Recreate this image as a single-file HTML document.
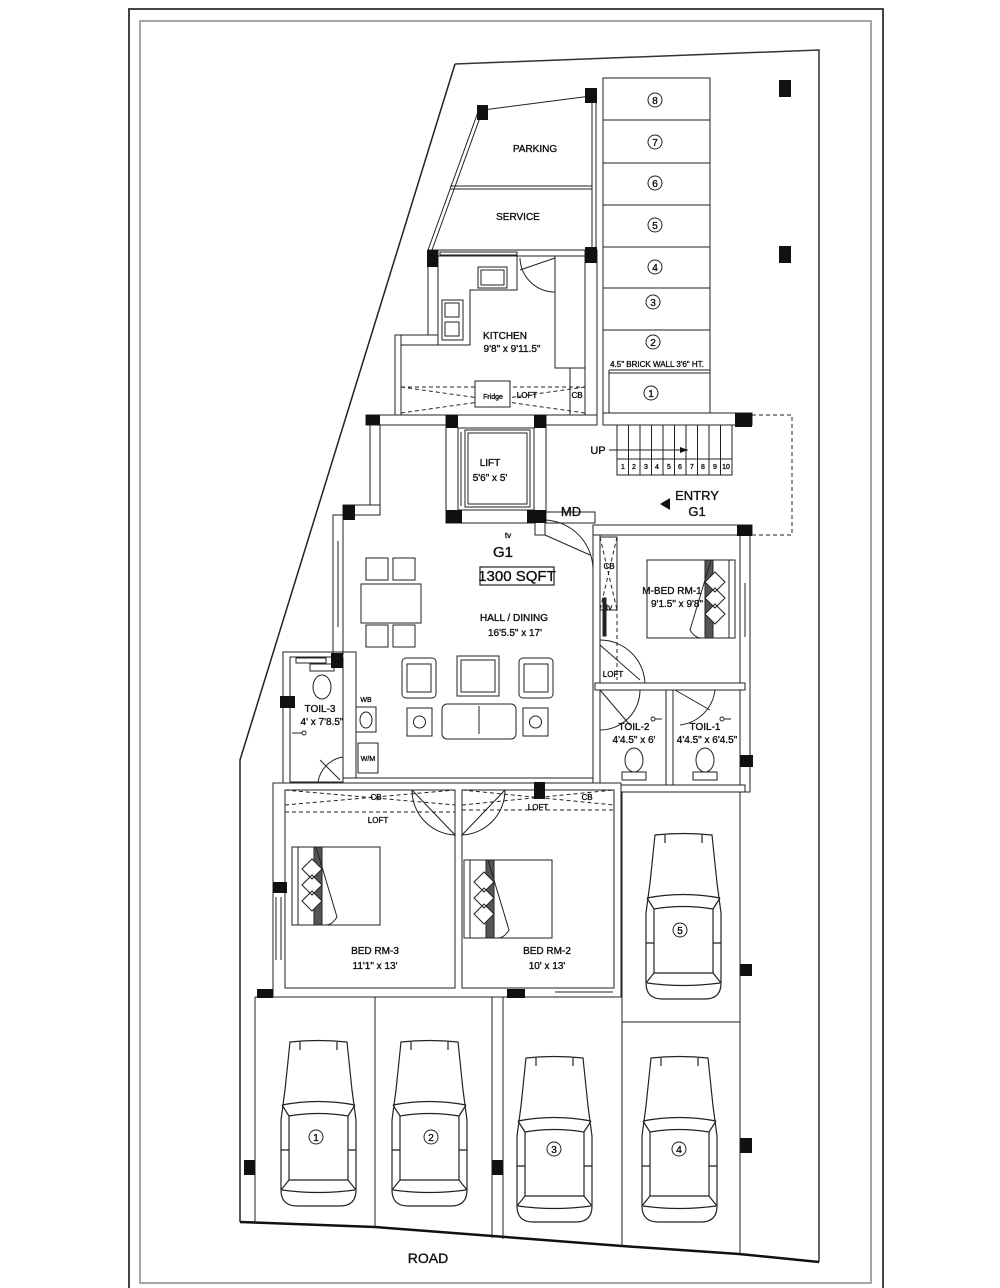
<!DOCTYPE html>
<html><head><meta charset="utf-8"><style>
html,body{margin:0;padding:0;background:#fff;}
svg{display:block;}
text{font-family:"Liberation Sans Narrow","Liberation Sans",sans-serif;fill:#111;stroke:#111;stroke-width:0.35;text-anchor:middle;}
</style></head><body>
<svg width="1000" height="1288" viewBox="0 0 1000 1288" xmlns="http://www.w3.org/2000/svg">
<defs>
<g id="car" fill="none" stroke="#222" stroke-width="1.2">
 <path d="M10,2 Q38,-1 67,2 L72,50 L76,80 L76,150 Q76,166 60,166 L17,166 Q1,166 1,150 L1,80 L5,50 Z" fill="#fff"/>
 <path d="M2,65 Q38,58 75,65"/>
 <path d="M9,76 Q38,71 68,76 L68,140 L9,140 Z"/>
 <path d="M2,65 L9,76 M75,65 L68,76 M1,150 L9,140 M76,150 L68,140"/>
 <path d="M2,150 Q38,155 75,150"/>
 <path d="M20,2 L20,10 M57,2 L57,10"/>
 <path d="M1,110 L9,110 M76,110 L68,110"/>
</g>
<g id="bed" fill="none" stroke="#222" stroke-width="1">
 <rect x="0" y="0" width="88" height="78" fill="#fff"/>
 <line x1="6" y1="0" x2="6" y2="78"/>
 <rect x="22" y="0" width="8" height="78" fill="#555"/>
 <path d="M24,0 L45,70 Q40,78 34,78"/>
 <path d="M10,22 L20,12 L30,22 L20,32 Z M10,38 L20,28 L30,38 L20,48 Z M10,54 L20,44 L30,54 L20,64 Z" fill="#fff"/>
</g>
<g id="cir"><circle r="7" fill="#fff" stroke="#222" stroke-width="1"/></g>
</defs>

<rect x="129" y="9" width="754" height="1292" fill="none" stroke="#444" stroke-width="2"/>
<rect x="140" y="21" width="731" height="1262" fill="none" stroke="#888" stroke-width="1.5"/>

<polyline points="455,64 819,50 819,1262" fill="none" stroke="#333" stroke-width="1.5"/>
<polyline points="455,64 240,760 240,1222" fill="none" stroke="#222" stroke-width="1.5"/>
<polyline points="240,1222 375,1227 622,1246 739,1254 819,1262" fill="none" stroke="#111" stroke-width="2.5"/>

<g fill="none" stroke="#222" stroke-width="1">
<line x1="483" y1="110" x2="591" y2="96"/>
<line x1="478" y1="112" x2="428" y2="250"/>
<line x1="482" y1="112" x2="432" y2="250"/>
<line x1="592" y1="96" x2="592" y2="250"/>
<line x1="596" y1="96" x2="596" y2="250"/>
<line x1="450" y1="186" x2="592" y2="186"/>
<line x1="450" y1="189" x2="592" y2="189"/>

<rect x="603" y="78" width="107" height="335"/>
<line x1="603" y1="120" x2="710" y2="120"/><line x1="603" y1="163" x2="710" y2="163"/>
<line x1="603" y1="205" x2="710" y2="205"/><line x1="603" y1="247" x2="710" y2="247"/>
<line x1="603" y1="288" x2="710" y2="288"/><line x1="603" y1="330" x2="710" y2="330"/>
<line x1="609" y1="370" x2="710" y2="370"/><line x1="609" y1="373" x2="710" y2="373"/>
<line x1="609" y1="370" x2="609" y2="413"/>
<line x1="597" y1="250" x2="597" y2="415"/><line x1="603" y1="250" x2="603" y2="415"/>

<rect x="428" y="250" width="169" height="6" fill="#fff"/>
<rect x="440" y="252" width="77" height="3"/>
<rect x="428" y="250" width="10" height="95" fill="#fff"/>
<rect x="395" y="335" width="43" height="10" fill="#fff"/>
<rect x="395" y="335" width="6" height="90" fill="#fff"/>
<rect x="585" y="250" width="12" height="175" fill="#fff"/>
<rect x="555" y="256" width="30" height="112"/>
<rect x="570" y="368" width="15" height="47"/>
<path d="M555,258 L520,270 M520,258 A35,35 0 0 0 555,292"/>
<path d="M438,256 L517,256 L517,290 L470,290 L470,345 L438,345"/>
<rect x="478" y="267" width="29" height="21"/><rect x="481" y="270" width="23" height="15"/>
<rect x="442" y="300" width="21" height="40"/>
<rect x="445" y="303" width="14" height="14"/><rect x="445" y="322" width="14" height="14"/>
<g stroke-dasharray="4,3"><line x1="401" y1="387" x2="585" y2="387"/>
<line x1="401" y1="387" x2="585" y2="413"/><line x1="401" y1="413" x2="585" y2="387"/></g>
<rect x="475" y="381" width="35" height="26" fill="#fff"/>

<rect x="366" y="415" width="231" height="10" fill="#fff"/>
<rect x="603" y="413" width="149" height="12" fill="#fff"/>
<rect x="370" y="425" width="10" height="90" fill="#fff"/>
<rect x="343" y="505" width="37" height="10" fill="#fff"/>
<rect x="333" y="515" width="10" height="140" fill="#fff"/>
<line x1="338" y1="541" x2="338" y2="627"/>

<rect x="446" y="415" width="100" height="108" fill="#fff"/>
<rect x="458" y="428" width="76" height="82"/>
<rect x="465" y="430" width="65" height="77"/>
<rect x="468" y="433" width="59" height="71"/>
<line x1="461" y1="432" x2="461" y2="506"/>

<rect x="617" y="425" width="115" height="50"/>
<line x1="628.5" y1="425" x2="628.5" y2="475"/><line x1="640" y1="425" x2="640" y2="475"/>
<line x1="651.5" y1="425" x2="651.5" y2="475"/><line x1="663" y1="425" x2="663" y2="475"/>
<line x1="674.5" y1="425" x2="674.5" y2="475"/><line x1="686" y1="425" x2="686" y2="475"/>
<line x1="697.5" y1="425" x2="697.5" y2="475"/><line x1="709" y1="425" x2="709" y2="475"/>
<line x1="720.5" y1="425" x2="720.5" y2="475"/>
<line x1="617" y1="459" x2="732" y2="459"/>
<line x1="609" y1="450" x2="688" y2="450"/>
<path d="M752,415 L792,415 L792,535 L752,535" stroke-dasharray="4,3"/>
<rect x="593" y="525" width="159" height="10" fill="#fff"/>
<rect x="546" y="512" width="49" height="11"/>
<rect x="535" y="520" width="10" height="15" fill="#fff"/>
<path d="M545,535 L590,555 M545,520 A50,50 0 0 1 593,570"/>

<rect x="593" y="535" width="7" height="250" fill="#fff"/>
<rect x="740" y="525" width="10" height="267" fill="#fff"/>
<line x1="745" y1="583" x2="745" y2="637"/>
<rect x="600" y="537" width="17" height="73"/>
<g stroke-dasharray="4,3"><line x1="600" y1="537" x2="617" y2="610"/><line x1="617" y1="537" x2="600" y2="610"/>
<line x1="617" y1="537" x2="617" y2="680"/></g>
<rect x="603" y="598" width="3" height="38" fill="#222"/>
<path d="M600,645 L640,680 M600,640 A45,45 0 0 1 645,685"/>
<rect x="595" y="683" width="150" height="7" fill="#fff"/>
<rect x="666" y="690" width="7" height="102" fill="#fff"/>
<rect x="595" y="785" width="150" height="7" fill="#fff"/>
<path d="M600,690 L630,725 M600,730 A40,40 0 0 0 640,690"/>
<path d="M675,690 L710,710 M715,690 A40,40 0 0 1 680,725"/>
<ellipse cx="634" cy="760" rx="9" ry="12"/><rect x="622" y="772" width="24" height="8"/>
<ellipse cx="705" cy="760" rx="9" ry="12"/><rect x="693" y="772" width="24" height="8"/>
<circle cx="653" cy="719" r="2"/><line x1="655" y1="719" x2="662" y2="719"/>
<circle cx="722" cy="719" r="2"/><line x1="724" y1="719" x2="731" y2="719"/>

<rect x="283" y="652" width="73" height="135" fill="none"/>
<rect x="290" y="657" width="53" height="125"/>
<rect x="296" y="658" width="30" height="5"/>
<ellipse cx="322" cy="687" rx="9" ry="12"/><rect x="310" y="664" width="24" height="7"/>
<circle cx="304" cy="733" r="2"/><line x1="292" y1="733" x2="302" y2="733"/>
<path d="M320,760 L340,780 M318,782 A30,30 0 0 1 343,757"/>
<rect x="356" y="707" width="20" height="25"/><ellipse cx="366" cy="720" rx="6" ry="8"/>
<rect x="358" y="743" width="20" height="30"/>

<rect x="343" y="778" width="250" height="5" fill="#fff"/>

<rect x="273" y="783" width="348" height="214" fill="#fff"/>
<rect x="285" y="790" width="170" height="198"/>
<rect x="462" y="790" width="152" height="198"/>
<line x1="276" y1="897" x2="276" y2="960"/><line x1="281" y1="897" x2="281" y2="960"/>
<line x1="555" y1="992" x2="613" y2="992"/>
<g stroke-dasharray="4,3">
<line x1="285" y1="790" x2="455" y2="805"/><line x1="285" y1="805" x2="455" y2="790"/>
<line x1="285" y1="812" x2="455" y2="812"/>
<line x1="462" y1="790" x2="614" y2="805"/><line x1="462" y1="805" x2="614" y2="790"/>
<line x1="462" y1="810" x2="614" y2="810"/>
</g>
<path d="M412,790 A45,45 0 0 0 455,835 L412,790"/>
<path d="M505,790 A45,45 0 0 1 462,835 L505,790"/>

<line x1="255" y1="997" x2="255" y2="1222"/>
<line x1="375" y1="997" x2="375" y2="1227"/>
<line x1="492" y1="997" x2="492" y2="1238"/>
<line x1="503" y1="997" x2="503" y2="1239"/>
<line x1="622" y1="792" x2="622" y2="1246"/>
<line x1="740" y1="792" x2="740" y2="1254"/>
<line x1="622" y1="1022" x2="740" y2="1022"/>
<line x1="255" y1="997" x2="622" y2="997"/>
</g>

<g fill="#fff" stroke="#222" stroke-width="1">
<rect x="361" y="584" width="60" height="39"/>
<rect x="366" y="558" width="22" height="22"/><rect x="393" y="558" width="22" height="22"/>
<rect x="366" y="625" width="22" height="22"/><rect x="393" y="625" width="22" height="22"/>
<rect x="402" y="658" width="34" height="40" rx="4"/><rect x="407" y="664" width="24" height="28"/>
<rect x="457" y="656" width="42" height="40"/><rect x="461" y="660" width="34" height="32"/>
<rect x="519" y="658" width="34" height="40" rx="4"/><rect x="524" y="664" width="24" height="28"/>
<rect x="407" y="708" width="25" height="28"/><circle cx="419.5" cy="722" r="6"/>
<rect x="442" y="704" width="74" height="35" rx="5"/><line x1="479" y1="706" x2="479" y2="734"/>
<rect x="523" y="708" width="25" height="28"/><circle cx="535.5" cy="722" r="6"/>
</g>

<g fill="#111">
<rect x="477" y="105" width="11" height="15"/><rect x="585" y="88" width="12" height="15"/>
<rect x="427" y="250" width="11" height="17"/><rect x="585" y="247" width="12" height="16"/>
<rect x="366" y="415" width="14" height="10"/><rect x="446" y="415" width="12" height="13"/>
<rect x="534" y="415" width="12" height="13"/><rect x="735" y="413" width="17" height="14"/>
<rect x="446" y="510" width="16" height="13"/><rect x="527" y="510" width="19" height="13"/>
<rect x="343" y="505" width="12" height="15"/><rect x="737" y="525" width="15" height="11"/>
<rect x="331" y="653" width="12" height="15"/><rect x="280" y="696" width="15" height="12"/>
<rect x="273" y="882" width="14" height="11"/><rect x="257" y="989" width="16" height="9"/>
<rect x="507" y="989" width="18" height="9"/><rect x="534" y="782" width="11" height="17"/>
<rect x="740" y="755" width="13" height="12"/>
<rect x="779" y="80" width="12" height="17"/><rect x="779" y="246" width="12" height="17"/>
<rect x="740" y="964" width="12" height="12"/><rect x="740" y="1138" width="12" height="15"/>
<rect x="244" y="1160" width="11" height="15"/><rect x="492" y="1160" width="11" height="15"/>
<path d="M670,498 L660,504 L670,510 Z"/>
<path d="M680,447 L688,450 L680,453 Z"/>
</g>

<use href="#bed" x="292" y="847"/>
<use href="#bed" x="464" y="860"/>
<use href="#bed" transform="translate(735,560) scale(-1,1)"/>

<use href="#car" x="645" y="833"/>
<use href="#car" x="280" y="1040"/>
<use href="#car" x="391" y="1040"/>
<use href="#car" x="516" y="1056"/>
<use href="#car" x="641" y="1056"/>

<use href="#cir" x="655" y="100"/><use href="#cir" x="655" y="142"/><use href="#cir" x="655" y="183"/>
<use href="#cir" x="655" y="225"/><use href="#cir" x="655" y="267"/><use href="#cir" x="653" y="302"/>
<use href="#cir" x="653" y="342"/><use href="#cir" x="651" y="393"/>
<use href="#cir" x="680" y="930"/><use href="#cir" x="316" y="1137"/><use href="#cir" x="431" y="1137"/>
<use href="#cir" x="554" y="1149"/><use href="#cir" x="679" y="1149"/>
<rect x="480" y="567" width="74" height="18" fill="none" stroke="#222" stroke-width="1.2"/>

<g font-size="10">
<text x="655" y="104">8</text><text x="655" y="146">7</text><text x="655" y="187">6</text>
<text x="655" y="229">5</text><text x="655" y="271">4</text><text x="653" y="306">3</text>
<text x="653" y="346">2</text><text x="651" y="397">1</text>
<text x="680" y="934">5</text><text x="316" y="1141">1</text><text x="431" y="1141">2</text>
<text x="554" y="1153">3</text><text x="679" y="1153">4</text>
<text x="535" y="152">PARKING</text>
<text x="518" y="220">SERVICE</text>
<text x="505" y="339">KITCHEN</text>
<text x="512" y="352">9'8" x 9'11.5"</text>
<text x="657" y="367" font-size="8">4.5" BRICK WALL 3'6" HT.</text>
<text x="493" y="399" font-size="7">Fridge</text>
<text x="527" y="398" font-size="8">LOFT</text>
<text x="577" y="398" font-size="8">CB</text>
<text x="490" y="466">LIFT</text>
<text x="490" y="481">5'6" x 5'</text>
<text x="598" y="454" font-size="11">UP</text>
<g font-size="7"><text x="623" y="469">1</text><text x="634" y="469">2</text><text x="646" y="469">3</text><text x="657" y="469">4</text><text x="669" y="469">5</text><text x="680" y="469">6</text><text x="692" y="469">7</text><text x="703" y="469">8</text><text x="715" y="469">9</text><text x="726" y="469">10</text></g>
<text x="697" y="500" font-size="13">ENTRY</text>
<text x="697" y="516" font-size="13">G1</text>
<text x="571" y="516" font-size="13">MD</text>
<text x="508" y="538" font-size="8">tv</text>
<text x="503" y="557" font-size="15">G1</text>
<text x="517" y="581" font-size="15">1300 SQFT</text>
<text x="514" y="621">HALL / DINING</text>
<text x="515" y="636">16'5.5" x 17'</text>
<text x="609" y="569" font-size="8">CB</text>
<text x="609" y="610" font-size="8">tv</text>
<text x="672" y="594">M-BED RM-1</text>
<text x="677" y="607">9'1.5" x 9'8"</text>
<text x="613" y="677" font-size="8">LOFT</text>
<text x="634" y="730">TOIL-2</text>
<text x="634" y="743">4'4.5" x 6'</text>
<text x="705" y="730">TOIL-1</text>
<text x="707" y="743">4'4.5" x 6'4.5"</text>
<text x="320" y="712">TOIL-3</text>
<text x="322" y="725">4' x 7'8.5"</text>
<text x="366" y="702" font-size="7">WB</text>
<text x="368" y="761" font-size="7">W/M</text>
<text x="376" y="800" font-size="8">CB</text>
<text x="587" y="800" font-size="8">CB</text>
<text x="378" y="823" font-size="8">LOFT</text>
<text x="538" y="810" font-size="8">LOFT</text>
<text x="375" y="954">BED RM-3</text>
<text x="375" y="969">11'1" x 13'</text>
<text x="547" y="954">BED RM-2</text>
<text x="547" y="969">10' x 13'</text>
<text x="428" y="1263" font-size="14">ROAD</text>
</g>
</svg>
</body></html>
